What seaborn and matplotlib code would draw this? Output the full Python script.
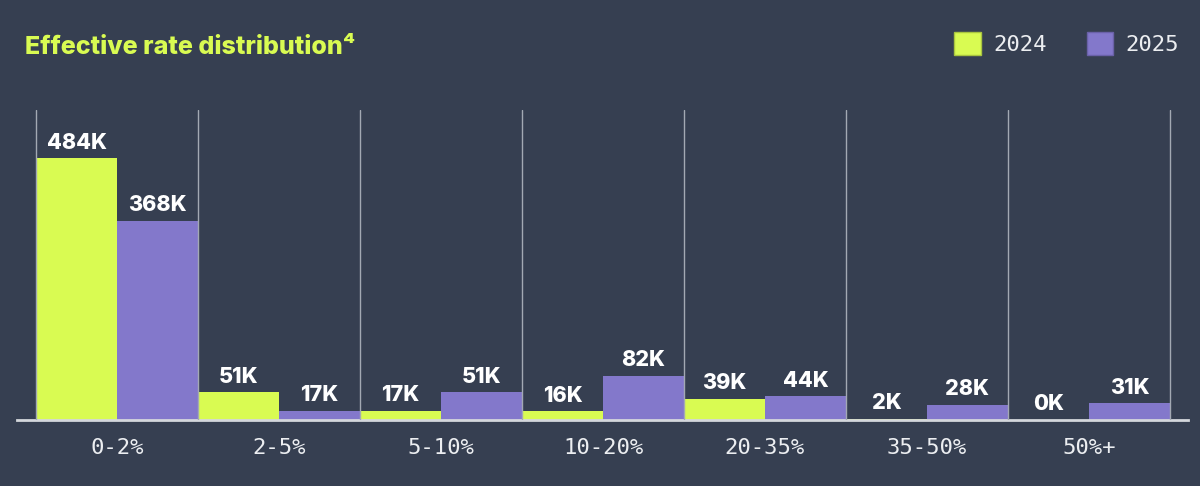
import pandas as pd
import numpy as np
import matplotlib
matplotlib.use("Agg")
import matplotlib.pyplot as plt
import seaborn as sns

# data (thousands)
bands = ["0-2%", "2-5%", "5-10%", "10-20%", "20-35%", "35-50%", "50%+"]
years = ["2024", "2025"]
values_2024 = [484, 51, 17, 16, 39, 2, 0]
values_2025 = [368, 17, 51, 82, 44, 28, 31]

bg = "#363f51"
lime = "#d9fb52"
purple = "#8378cb"
grid_col = "#a3a9b3"

df = pd.DataFrame({
    "band": bands * 2,
    "year": [years[0]] * len(bands) + [years[1]] * len(bands),
    "value": values_2024 + values_2025,
})

sns.set_theme(style="white")
plt.rcParams["font.family"] = ["Inter", "DejaVu Sans"]

fig = plt.figure(figsize=(12, 4.86), dpi=100, facecolor=bg)
ax = fig.add_axes([17 / 1200, 66 / 486, 1171 / 1200, 310 / 486])
ax.set_facecolor(bg)

sns.barplot(data=df, x="band", y="value", hue="year", palette=[lime, purple],
            width=1.0, saturation=1, edgecolor="none", linewidth=0, ax=ax,
            legend=False)

# vertical separators at every bar boundary
edges = set()
for p in ax.patches:
    edges.add(round(p.get_x(), 4))
    edges.add(round(p.get_x() + p.get_width(), 4))
ax.set_xticks(sorted(edges), minor=True)
ax.grid(which="minor", axis="x", color=grid_col, linewidth=1)
ax.grid(which="major", visible=False)
ax.set_axisbelow(False)
ax.tick_params(which="both", length=0)

for cont in ax.containers:
    ax.bar_label(cont, labels=[f"{v:.0f}K" for v in cont.datavalues],
                 padding=4, color="white", fontsize=15.5, fontweight="heavy")

ax.set_ylim(0, 573)
ax.set_xlim(-0.5 - 19 / 162, 6.5 + 18 / 162)
ax.set_yticks([])
ax.set_xlabel("")
ax.set_ylabel("")
for s in ["top", "left", "right"]:
    ax.spines[s].set_visible(False)
ax.spines["bottom"].set_color("#d4d7dc")
ax.spines["bottom"].set_linewidth(2)
ax.tick_params(axis="x", pad=13, colors="#eceef1")
for lab in ax.get_xticklabels():
    lab.set_fontfamily("DejaVu Sans Mono")
    lab.set_fontsize(16)

fig.text(25 / 1200, 1 - 47 / 486, "Effective rate distribution\u2074", color=lime,
         fontsize=18, fontweight="heavy", va="center", ha="left")

handles = [plt.Rectangle((0, 0), 1, 1, facecolor=lime, edgecolor="#a9c43f", linewidth=1),
           plt.Rectangle((0, 0), 1, 1, facecolor=purple, edgecolor="#6a61a8", linewidth=1)]
leg = fig.legend(handles, years, loc="upper right", bbox_to_anchor=(1190 / 1200, 1 - 21 / 486),
                 ncol=2, frameon=False, borderpad=0, handlelength=1.2, handleheight=1.2,
                 handletextpad=0.55, columnspacing=1.8,
                 prop={"family": "DejaVu Sans Mono", "size": 16})
for t in leg.get_texts():
    t.set_color("#eceef1")

fig.savefig("out.png", dpi=100, facecolor=bg)
